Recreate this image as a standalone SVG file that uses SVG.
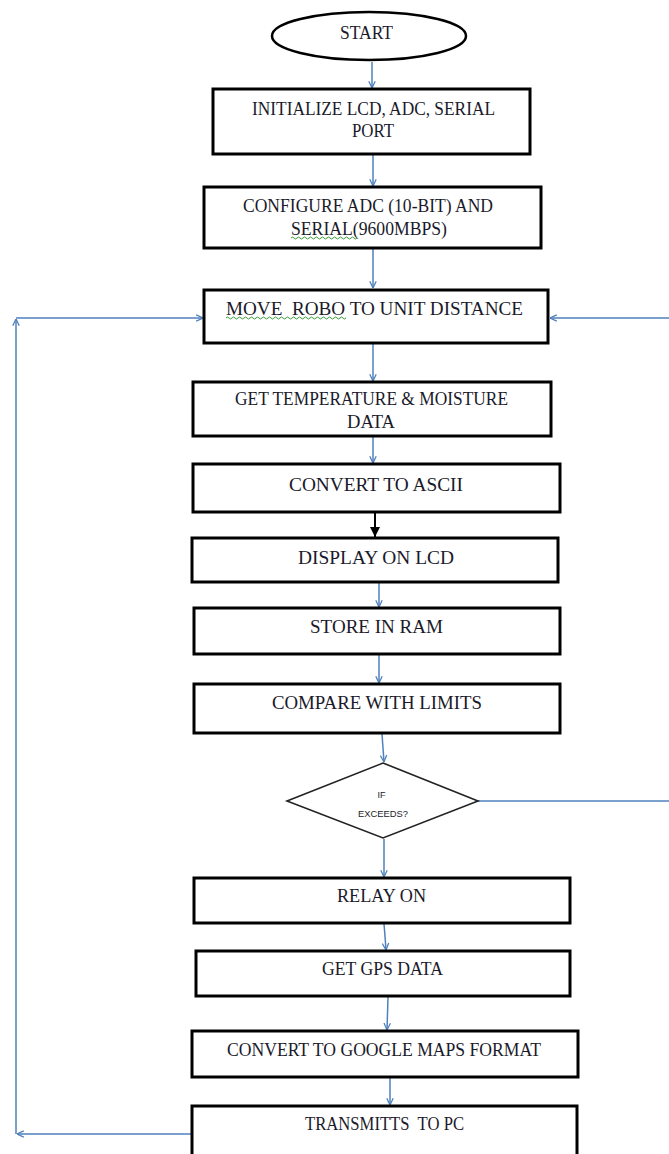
<svg xmlns="http://www.w3.org/2000/svg" width="669" height="1154" viewBox="0 0 669 1154">
<style>
.box{fill:#fff;stroke:#000;stroke-width:3}
.t{font-family:"Liberation Serif","Times New Roman",serif;font-size:18px;fill:#1a1a2a;text-anchor:middle;white-space:pre}
.s{font-family:"Liberation Sans",Arial,sans-serif;font-size:9px;fill:#1a1a2a;text-anchor:middle}
.c{fill:none;stroke:#4F81BD;stroke-width:1.5;marker-end:url(#ah)}
.sq{fill:none;stroke:#3a9a3a;stroke-width:1}
</style>
<defs>
<marker id="ah" viewBox="0 0 10 10" refX="9.5" refY="5" markerWidth="8" markerHeight="8" markerUnits="userSpaceOnUse" orient="auto">
<path d="M1,1 L9.5,5 L1,9" fill="none" stroke="#4F81BD" stroke-width="1.6"/>
</marker>
<marker id="bh" viewBox="0 0 10 10" refX="10" refY="5" markerWidth="10" markerHeight="10" markerUnits="userSpaceOnUse" orient="auto">
<path d="M0,0 L10,5 L0,10 Z" fill="#000"/>
</marker>
</defs>

<g id="connectors">
<path class="c" d="M372,62 V88"/>
<path class="c" d="M373,155 V186"/>
<path class="c" d="M373,249 V288"/>
<path class="c" d="M373,344 V381"/>
<path class="c" d="M373,437 V463"/>
<path d="M375,513 V537" fill="none" stroke="#000" stroke-width="2" marker-end="url(#bh)"/>
<path class="c" d="M379,583 V607"/>
<path class="c" d="M379,655 V683"/>
<path class="c" d="M382,734 L384,762"/>
<path class="c" d="M384,839 V877"/>
<path class="c" d="M384,924 L385,936 L386,950"/>
<path class="c" d="M388,997 L387,1030"/>
<path class="c" d="M390,1078 V1105"/>
<path class="c" d="M478,801 H672 V318 H550"/>
<path class="c" d="M192,1134 H17"/>
<path class="c" d="M16,1134 V319"/>
<path class="c" d="M16,318 H203"/>
</g>

<g id="start">
<ellipse cx="369" cy="36" rx="97" ry="24" fill="#fff" stroke="#000" stroke-width="2.5"/>
<text class="t" x="366.5" y="39" textLength="53" lengthAdjust="spacingAndGlyphs">START</text>
</g>

<g id="init">
<rect class="box" x="213" y="89" width="317" height="65"/>
<text class="t" x="373.5" y="115" textLength="243" lengthAdjust="spacingAndGlyphs">INITIALIZE LCD, ADC, SERIAL</text>
<text class="t" x="373" y="137" textLength="42" lengthAdjust="spacingAndGlyphs">PORT</text>
</g>

<g id="configure">
<rect class="box" x="204" y="187" width="337" height="61"/>
<text class="t" x="368" y="212" textLength="250" lengthAdjust="spacingAndGlyphs">CONFIGURE ADC (10-BIT) AND</text>
<text class="t" x="369" y="235" textLength="156" lengthAdjust="spacingAndGlyphs">SERIAL(9600MBPS)</text>
<path class="sq" d="M291,238 q1.5,-2 3,0 t3,0 t3,0 t3,0 t3,0 t3,0 t3,0 t3,0 t3,0 t3,0 t3,0 t3,0 t3,0 t3,0 t3,0 t3,0 t3,0 t3,0 t3,0 t3,0 t3,0 t3,0"/>
</g>

<g id="move">
<rect class="box" x="204" y="290" width="344" height="53"/>
<text class="t" x="374.5" y="315" textLength="297" lengthAdjust="spacingAndGlyphs">MOVE  ROBO TO UNIT DISTANCE</text>
<path class="sq" d="M226,318 q1.5,-2 3,0 t3,0 t3,0 t3,0 t3,0 t3,0 t3,0 t3,0 t3,0 t3,0 t3,0 t3,0 t3,0 t3,0 t3,0 t3,0 t3,0 t3,0 t3,0 t3,0 t3,0 t3,0 t3,0 t3,0 t3,0 t3,0 t3,0 t3,0 t3,0 t3,0 t3,0 t3,0 t3,0 t3,0 t3,0 t3,0 t3,0 t3,0 t3,0 t3,0"/>
</g>

<g id="get-temp">
<rect class="box" x="193" y="382" width="358" height="54"/>
<text class="t" x="371.5" y="405" textLength="273" lengthAdjust="spacingAndGlyphs">GET TEMPERATURE &amp; MOISTURE</text>
<text class="t" x="371" y="428" textLength="48" lengthAdjust="spacingAndGlyphs">DATA</text>
</g>

<g id="ascii">
<rect class="box" x="193" y="464" width="367" height="48"/>
<text class="t" x="376" y="491" textLength="174" lengthAdjust="spacingAndGlyphs">CONVERT TO ASCII</text>
</g>

<g id="display">
<rect class="box" x="192" y="538" width="366" height="44"/>
<text class="t" x="376" y="564" textLength="156" lengthAdjust="spacingAndGlyphs">DISPLAY ON LCD</text>
</g>

<g id="store">
<rect class="box" x="194" y="608" width="366" height="46"/>
<text class="t" x="376.5" y="633" textLength="133" lengthAdjust="spacingAndGlyphs">STORE IN RAM</text>
</g>

<g id="compare">
<rect class="box" x="194" y="684" width="366" height="49"/>
<text class="t" x="377" y="709" textLength="210" lengthAdjust="spacingAndGlyphs">COMPARE WITH LIMITS</text>
</g>

<g id="decision">
<polygon points="383,763 478,801 383,838 287,801" fill="#fff" stroke="#222" stroke-width="1.6"/>
<text class="s" x="381.5" y="798" textLength="8" lengthAdjust="spacingAndGlyphs">IF</text>
<text class="s" x="383" y="817" textLength="50" lengthAdjust="spacingAndGlyphs">EXCEEDS?</text>
</g>

<g id="relay">
<rect class="box" x="194" y="878" width="376" height="45"/>
<text class="t" x="381.5" y="902" textLength="89" lengthAdjust="spacingAndGlyphs">RELAY ON</text>
</g>

<g id="gps">
<rect class="box" x="196" y="951" width="374" height="45"/>
<text class="t" x="382.5" y="975" textLength="121" lengthAdjust="spacingAndGlyphs">GET GPS DATA</text>
</g>

<g id="google">
<rect class="box" x="192" y="1031" width="386" height="46"/>
<text class="t" x="384" y="1056" textLength="314" lengthAdjust="spacingAndGlyphs">CONVERT TO GOOGLE MAPS FORMAT</text>
</g>

<g id="transmit">
<rect class="box" x="192" y="1106" width="385" height="60"/>
<text class="t" x="384.5" y="1130" textLength="159" lengthAdjust="spacingAndGlyphs">TRANSMITTS  TO PC</text>
</g>
</svg>
